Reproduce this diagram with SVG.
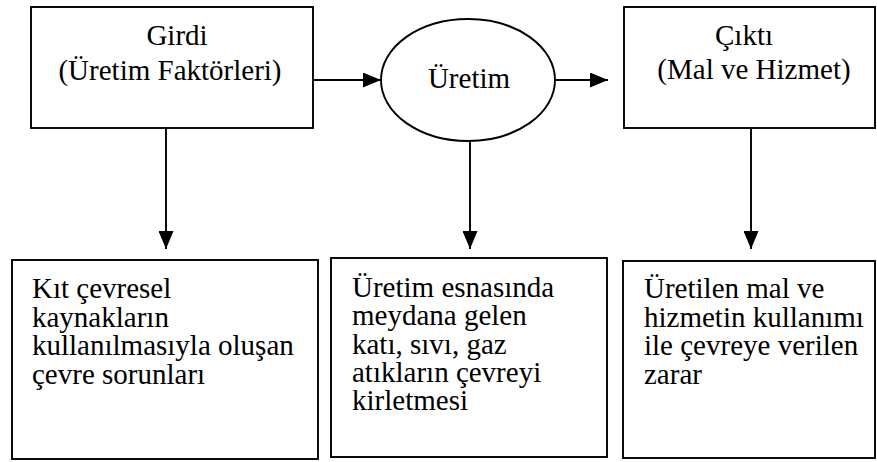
<svg xmlns="http://www.w3.org/2000/svg" width="877" height="462" viewBox="0 0 877 462">
<style>
.box{fill:#fff;stroke:#000;stroke-width:1.9}
.t{font-size:29px;fill:#000}
.c{text-anchor:middle}
.ln{stroke:#000;stroke-width:1.9;fill:none}
</style>
<defs>
<marker id="ah" markerUnits="userSpaceOnUse" markerWidth="18" markerHeight="15" refX="18" refY="7.5" orient="auto">
<path d="M0,0 L18,7.5 L0,15 z" fill="#000"/>
</marker>
</defs>
<rect width="877" height="462" fill="#fff"/>
<g id="connectors">
<line class="ln" x1="313" y1="80" x2="381" y2="80" marker-end="url(#ah)"/>
<line class="ln" x1="556" y1="80" x2="608" y2="80" marker-end="url(#ah)"/>
<line class="ln" x1="166" y1="128" x2="166" y2="249" marker-end="url(#ah)"/>
<line class="ln" x1="470" y1="141" x2="470" y2="249" marker-end="url(#ah)"/>
<line class="ln" x1="751" y1="128" x2="751" y2="249" marker-end="url(#ah)"/>
</g>
<g font-family="'Liberation Serif', 'Times New Roman', serif">
<g id="girdi">
<rect class="box" x="31" y="7" width="282" height="121"/>
<text class="t c" x="177" y="45">Girdi</text>
<text class="t c" x="170" y="80">(Üretim Faktörleri)</text>
</g>
<g id="uretim">
<ellipse class="box" cx="468" cy="80" rx="87" ry="61"/>
<text class="t c" x="469" y="88">Üretim</text>
</g>
<g id="cikti">
<rect class="box" x="624" y="7" width="251" height="121"/>
<text class="t c" x="744" y="45">Çıktı</text>
<text class="t c" x="754" y="79">(Mal ve Hizmet)</text>
</g>
<g id="sorun1">
<rect class="box" x="12" y="260" width="306" height="199"/>
<text class="t" x="32" y="298">Kıt çevresel</text>
<text class="t" x="32" y="326.5">kaynakların</text>
<text class="t" x="32" y="355">kullanılmasıyla oluşan</text>
<text class="t" x="32" y="383.5">çevre sorunları</text>
</g>
<g id="sorun2">
<rect class="box" x="331" y="258" width="276" height="199"/>
<text class="t" x="352" y="297">Üretim esnasında</text>
<text class="t" x="352" y="325.3">meydana gelen</text>
<text class="t" x="352" y="353.6">katı, sıvı, gaz</text>
<text class="t" x="352" y="381.9">atıkların çevreyi</text>
<text class="t" x="352" y="410.2">kirletmesi</text>
</g>
<g id="sorun3">
<rect class="box" x="623" y="261" width="252" height="197"/>
<text class="t" x="644" y="298">Üretilen mal ve</text>
<text class="t" x="644" y="326.5">hizmetin kullanımı</text>
<text class="t" x="644" y="355">ile çevreye verilen</text>
<text class="t" x="644" y="383.5">zarar</text>
</g>
</g>
</svg>
